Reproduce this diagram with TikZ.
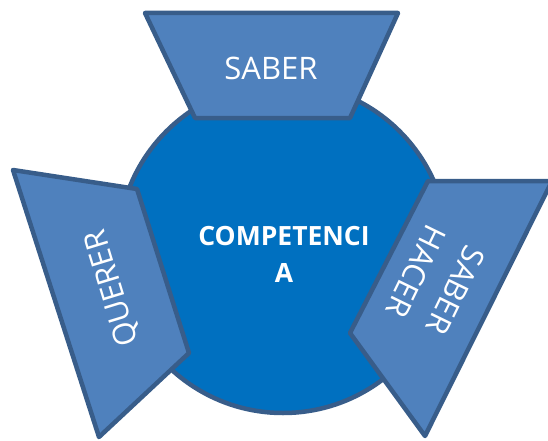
\documentclass[tikz,border=0pt]{standalone}
\usepackage{fontspec}
\setmainfont{Open Sans}
\definecolor{circfill}{HTML}{0070C0}
\definecolor{trapfill}{HTML}{4F81BD}
\definecolor{edgecol}{HTML}{385D8A}
\begin{document}
\begin{tikzpicture}[x=1pt,y=-1pt,
  shapebox/.style={draw=edgecol, fill=trapfill, line width=4.5pt, line join=round},
  hub/.style={draw=edgecol, fill=circfill, line width=4.5pt},
  lbl/.style={text=white, align=center, inner sep=0pt, font=\fontsize{31}{44}\selectfont},
  hublbl/.style={text=white, align=center, inner sep=0pt, font=\bfseries\fontsize{26.5}{37}\selectfont}]
\useasboundingbox (0,0) rectangle (548,441);
\draw[hub] (283,248) circle[radius=165];
\node[hublbl] (comp) at (284,254) {COMPETENCI\\A};
% SABER
\draw[shapebox] (145,13) -- (398,13) -- (350,118) -- (195,118) -- cycle;
\node[lbl] (saber) at (271,68) {SABER};
% QUERER
\draw[shapebox] (13,170) -- (137,189) -- (189,353) -- (99,437) -- cycle;
\node[lbl, rotate=107] (querer) at (113,288) {QUERER};
% SABER HACER
\draw[shapebox] (428,181) -- (552,181) -- (425,436) -- (350,333) -- cycle;
\node[lbl, rotate=-116] (hacer) at (436,281) {SABER\\HACER};
\end{tikzpicture}
\end{document}
